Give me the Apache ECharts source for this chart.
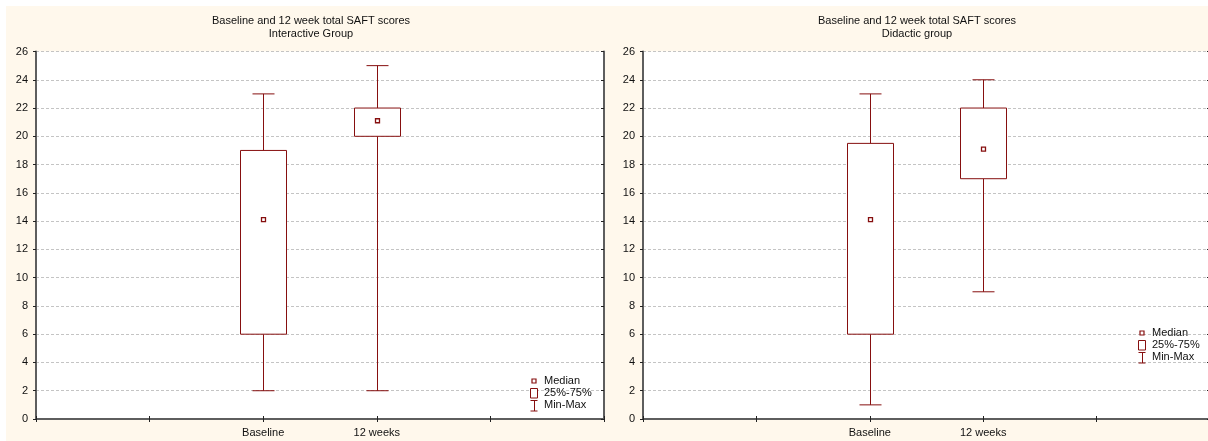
<!DOCTYPE html>
<html>
<head>
<meta charset="utf-8">
<title>Baseline and 12 week total SAFT scores</title>
<script src="https://cdn.jsdelivr.net/npm/echarts@6/dist/echarts.min.js"></script>
<style>
  html, body { margin: 0; padding: 0; background: #fff; }
  #chart { width: 1208px; height: 441px; }
</style>
</head>
<body>
<div id="chart"></div>
<script>
// Category slots along the x axis (ticks at every slot, labels on the two groups)
const axisSlots = ['', '', 'Baseline', '12 weeks', '', ''];
const categories = ['Baseline', '12 weeks'];

// Interactive group: min, 25%, median, 75%, max
const interactiveMin = [2, 2];
const interactiveQ1 = [6, 20];
const interactiveMedian = [14.1, 21.1];
const interactiveQ3 = [19, 22];
const interactiveMax = [23, 25];

// Didactic group
const didacticMin = [1, 9];
const didacticQ1 = [6, 17];
const didacticMedian = [14.1, 19.1];
const didacticQ3 = [19.5, 22];
const didacticMax = [23, 24];

// Y axis ticks
const yMin = 0, yMax = 26, yStep = 2;

const panelTitle = 'Baseline and 12 week total SAFT scores';
const groupNames = ['Interactive Group', 'Didactic group'];
const legendLabels = ['Median', '25%-75%', 'Min-Max'];

const RED = '#860f0f';
const AXIS = '#5e5e5e';
const CREAM = '#fff8ec';
const FONT = 'Liberation Sans, Arial, sans-serif';

function rows(mins, q1s, meds, q3s, maxs) {
  return categories.map((c, i) => [c, mins[i], q1s[i], meds[i], q3s[i], maxs[i]]);
}

function renderBox(params, api) {
  const cat = api.value(0);
  const pMin = api.coord([cat, api.value(1)]);
  const pQ1 = api.coord([cat, api.value(2)]);
  const pMed = api.coord([cat, api.value(3)]);
  const pQ3 = api.coord([cat, api.value(4)]);
  const pMax = api.coord([cat, api.value(5)]);
  const x = Math.round(pMin[0]) + 0.5;
  const boxHalf = 23, capHalf = 11, sq = 4;
  const line = { stroke: RED, lineWidth: 1 };
  return {
    type: 'group',
    children: [
      { type: 'line', shape: { x1: x, y1: pQ3[1], x2: x, y2: pMax[1] }, style: line },
      { type: 'line', shape: { x1: x, y1: pQ1[1], x2: x, y2: pMin[1] }, style: line },
      { type: 'line', shape: { x1: x - capHalf, y1: pMax[1], x2: x + capHalf, y2: pMax[1] }, style: line },
      { type: 'line', shape: { x1: x - capHalf, y1: pMin[1], x2: x + capHalf, y2: pMin[1] }, style: line },
      { type: 'rect', shape: { x: x - boxHalf, y: pQ3[1], width: boxHalf * 2, height: pQ1[1] - pQ3[1] },
        style: { fill: '#fff', stroke: RED, lineWidth: 1 } },
      { type: 'rect', shape: { x: x - sq / 2, y: pMed[1] - sq / 2, width: sq, height: sq },
        style: { fill: '#fff', stroke: RED, lineWidth: 1.3 } }
    ]
  };
}

const grids = [
  { left: 36, top: 51.5, width: 568, height: 367.5 },
  { left: 643, top: 51.5, width: 567, height: 367.5 }
];

const xAxes = [];
const yAxes = [];
grids.forEach((g, gi) => {
  // bottom axis with group labels
  xAxes.push({
    type: 'category', gridIndex: gi, data: axisSlots, boundaryGap: false, position: 'bottom',
    axisLine: { lineStyle: { color: AXIS, width: 2 } },
    axisTick: { inside: true, length: 3, lineStyle: { color: '#222' } },
    axisLabel: { color: '#111', fontSize: 11, fontFamily: FONT, margin: 8, interval: 0 },
    splitLine: { show: false }
  });
  // top frame
  xAxes.push({
    type: 'category', gridIndex: gi, data: axisSlots, boundaryGap: false, position: 'top',
    axisLine: { lineStyle: { color: AXIS, width: 2 } },
    axisTick: { inside: true, length: 3, lineStyle: { color: '#222' } },
    axisLabel: { show: false }, splitLine: { show: false }
  });
  // left value axis
  yAxes.push({
    type: 'value', gridIndex: gi, min: yMin, max: yMax, interval: yStep, position: 'left',
    axisLine: { show: true, lineStyle: { color: AXIS, width: 2 } },
    axisTick: { show: true, length: 3, lineStyle: { color: '#222' } },
    axisLabel: { color: '#111', fontSize: 11, fontFamily: FONT, margin: 8 },
    splitLine: { show: true, lineStyle: { color: '#c4c4c4', type: [3, 2], width: 1 } }
  });
  // right frame
  yAxes.push({
    type: 'value', gridIndex: gi, min: yMin, max: yMax, interval: yStep, position: 'right',
    axisLine: { show: true, lineStyle: { color: AXIS, width: 2 } },
    axisTick: { show: true, inside: true, length: 3, lineStyle: { color: '#222' } },
    axisLabel: { show: false }, splitLine: { show: false }
  });
});

const graphic = [
  { type: 'rect', z: -10, silent: true, shape: { x: 6, y: 6, width: 1210, height: 440 }, style: { fill: CREAM } }
];

// panel titles
[311, 917].forEach((cx, i) => {
  graphic.push({ type: 'text', x: cx, y: 21, style: { text: panelTitle, font: '11px ' + FONT, fill: '#111', textAlign: 'center', textVerticalAlign: 'middle' } });
  graphic.push({ type: 'text', x: cx, y: 34, style: { text: groupNames[i], font: '11px ' + FONT, fill: '#111', textAlign: 'center', textVerticalAlign: 'middle' } });
});

// legend keys
function legend(x, y) {
  const items = [];
  const ys = [y, y + 12, y + 24];
  items.push({ type: 'rect', z: 20, shape: { x: x - 2, y: ys[0] - 2, width: 4, height: 4 }, style: { fill: '#fff', stroke: RED, lineWidth: 1.2 } });
  items.push({ type: 'rect', z: 20, shape: { x: x - 3.5, y: ys[1] - 4.5, width: 7, height: 9.5 }, style: { fill: '#fff', stroke: RED, lineWidth: 1 } });
  items.push({ type: 'line', z: 20, shape: { x1: x - 3.5, y1: ys[2] - 4.5, x2: x + 3.5, y2: ys[2] - 4.5 }, style: { stroke: RED, lineWidth: 1 } });
  items.push({ type: 'line', z: 20, shape: { x1: x - 3.5, y1: ys[2] + 6, x2: x + 3.5, y2: ys[2] + 6 }, style: { stroke: RED, lineWidth: 1 } });
  items.push({ type: 'line', z: 20, shape: { x1: x + 0.5, y1: ys[2] - 4.5, x2: x + 0.5, y2: ys[2] + 6 }, style: { stroke: RED, lineWidth: 1 } });
  legendLabels.forEach((t, k) => {
    items.push({ type: 'text', z: 21, x: x + 10, y: ys[k], style: { text: t, font: '11px ' + FONT, fill: '#111', textAlign: 'left', textVerticalAlign: 'middle' } });
  });
  return items;
}
graphic.push(...legend(534, 381));
graphic.push(...legend(1142, 333));

const option = {
  backgroundColor: '#ffffff',
  animation: false,
  grid: grids.map(g => Object.assign({
    show: true, backgroundColor: '#ffffff', borderWidth: 0,
    containLabel: false, outerBoundsMode: 'none'
  }, g)),
  xAxis: xAxes,
  yAxis: yAxes,
  graphic: graphic,
  series: [
    {
      type: 'custom', name: groupNames[0], xAxisIndex: 0, yAxisIndex: 0,
      renderItem: renderBox, encode: { x: 0, y: [1, 2, 3, 4, 5] },
      data: rows(interactiveMin, interactiveQ1, interactiveMedian, interactiveQ3, interactiveMax), z: 5
    },
    {
      type: 'custom', name: groupNames[1], xAxisIndex: 2, yAxisIndex: 2,
      renderItem: renderBox, encode: { x: 0, y: [1, 2, 3, 4, 5] },
      data: rows(didacticMin, didacticQ1, didacticMedian, didacticQ3, didacticMax), z: 5
    }
  ]
};

const chart = echarts.init(document.getElementById('chart'), null, { renderer: 'canvas' });
chart.setOption(option);
</script>
</body>
</html>
